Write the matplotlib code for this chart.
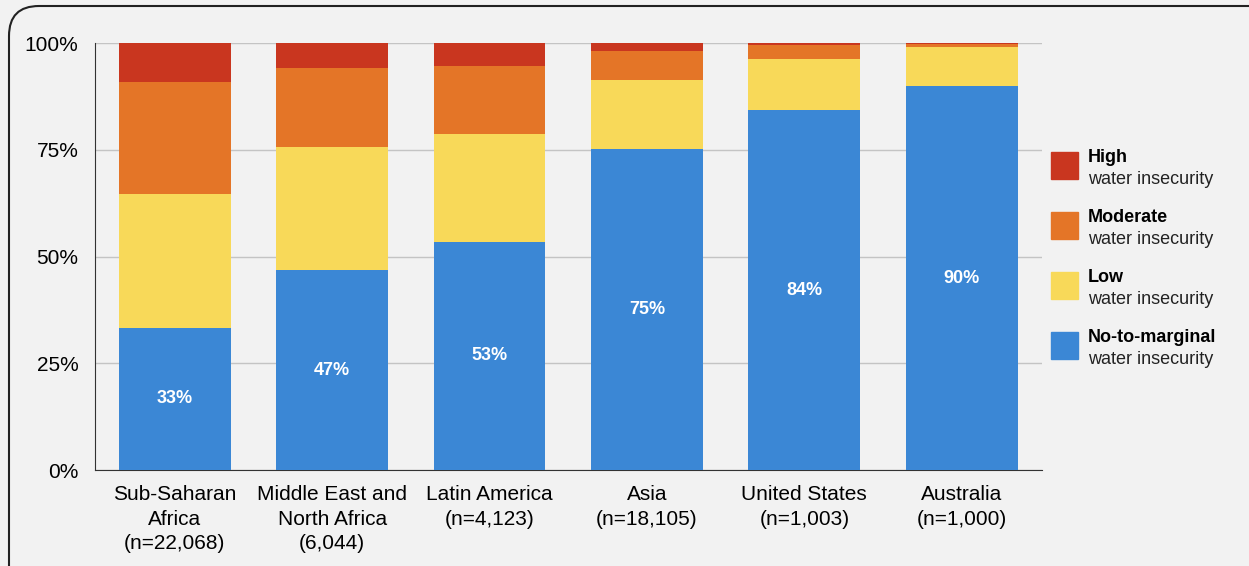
import matplotlib.pyplot as plt
from matplotlib.patches import FancyBboxPatch, Rectangle

plt.rcParams["font.family"] = ["Liberation Sans", "DejaVu Sans"]

regions = ["Sub-Saharan\nAfrica\n(n=22,068)", "Middle East and\nNorth Africa\n(6,044)",
           "Latin America\n(n=4,123)", "Asia\n(n=18,105)", "United States\n(n=1,003)",
           "Australia\n(n=1,000)"]
no_marginal = [33.3, 46.8, 53.4, 75.2, 84.3, 89.9]
low = [31.3, 28.8, 25.3, 16.1, 12.0, 9.1]
moderate = [26.3, 18.5, 15.9, 6.9, 3.2, 0.8]
high = [9.1, 5.9, 5.4, 1.8, 0.5, 0.2]
bar_labels = ["33%", "47%", "53%", "75%", "84%", "90%"]

couleurs = {"high": "#c9361f", "moderate": "#e47527", "low": "#f8d959", "none": "#3b87d5"}
fond = "#f2f2f2"

fig = plt.figure(figsize=(12.49, 5.66), dpi=100, facecolor=fond)
ax = fig.add_axes([0.076, 0.1696, 0.758, 0.7544])
ax.set_facecolor(fond)

x = range(len(regions))
largeur = 0.71
ax.bar(x, no_marginal, largeur, color=couleurs["none"], zorder=3)
bas = no_marginal[:]
ax.bar(x, low, largeur, bottom=bas, color=couleurs["low"], zorder=3)
bas = [b + v for b, v in zip(bas, low)]
ax.bar(x, moderate, largeur, bottom=bas, color=couleurs["moderate"], zorder=3)
bas = [b + v for b, v in zip(bas, moderate)]
ax.bar(x, high, largeur, bottom=bas, color=couleurs["high"], zorder=3)

# étiquettes au milieu du bleu
for i, v in enumerate(no_marginal):
    ax.text(i, v / 2, bar_labels[i], ha="center", va="center", color="white",
            fontsize=13, fontweight="bold", zorder=4)

ax.set_ylim(0, 100)
ax.set_xlim(-0.508, len(regions) - 0.492)
ax.set_yticks([0, 25, 50, 75, 100])
ax.set_yticklabels(["0%", "25%", "50%", "75%", "100%"], fontsize=15)
ax.set_xticks(list(x))
ax.set_xticklabels(regions, fontsize=15, linespacing=1.35)
ax.tick_params(axis="y", length=0, pad=12)
ax.tick_params(axis="x", length=0, pad=11)
ax.yaxis.grid(True, color="#c4c4c4", linewidth=1, zorder=0)
for s in ["top", "right"]:
    ax.spines[s].set_visible(False)
ax.spines["left"].set_color("#333333")
ax.spines["bottom"].set_color("#333333")

# légende faite à la main
entrees = [("High", "high"), ("Moderate", "moderate"), ("Low", "low"), ("No-to-marginal", "none")]
W, H = 1249, 566
for k, (nom, cle) in enumerate(entrees):
    yc = 166 + 60 * k
    fig.patches.append(Rectangle((1051 / W, (H - yc - 13) / H), 27 / W, 27 / H,
                                 transform=fig.transFigure, color=couleurs[cle]))
    fig.text(1088 / W, (H - yc + 8) / H, nom, fontsize=13, fontweight="bold", va="center")
    fig.text(1088 / W, (H - yc - 14) / H, "water insecurity", fontsize=13, va="center", color="#222222")

# cadre arrondi (en pouces pour avoir des coins ronds)
cadre = FancyBboxPatch((0.09, -0.5), 13.0, 5.6 + 0.5,
                       boxstyle="round,pad=0,rounding_size=0.3", transform=fig.dpi_scale_trans,
                       facecolor="none", edgecolor="#222222", linewidth=1.5)
fig.patches.append(cadre)

fig.savefig("out.png", dpi=100, facecolor=fond)
